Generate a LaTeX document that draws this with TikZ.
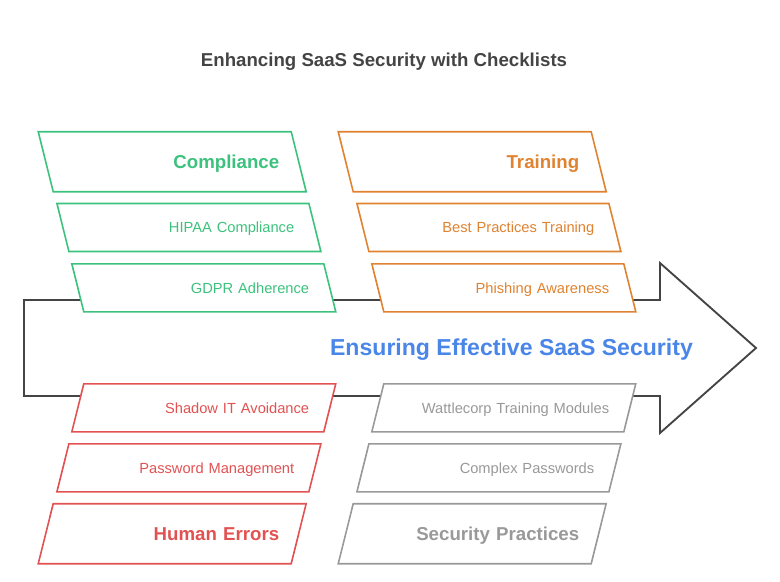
\documentclass[tikz,border=0pt]{standalone}
\usepackage{fontspec}
\setmainfont{Liberation Sans}
\usetikzlibrary{shapes.geometric}
\definecolor{cgreen}{RGB}{61,194,126}
\definecolor{corange}{RGB}{224,131,48}
\definecolor{cred}{RGB}{226,82,82}
\definecolor{cgrey}{RGB}{153,153,153}
\definecolor{cblue}{RGB}{74,134,232}
\definecolor{cdark}{RGB}{68,68,68}
\tikzset{
	part/.style={trapezium, draw=#1, text=#1, fill=white, line width=1.2pt, align=right, inner ysep=0pt},
	hi/.style={trapezium left angle=104, trapezium right angle=76},
	lo/.style={trapezium left angle=76, trapezium right angle=104},
	small/.style={text width=158pt, inner xsep=11pt, text height=22pt, text depth=14pt, font=\fontsize{11}{13}\selectfont},
	big/.style={text width=160.5pt, inner xsep=9pt, text height=27.5pt, text depth=17.5pt, font=\bfseries\fontsize{14}{16}\selectfont},
}
\begin{document}
\begin{tikzpicture}[x=0.75pt, y=-0.75pt]
	\useasboundingbox (0,0) rectangle (780,581);
	\node[text=cdark, font=\bfseries\fontsize{14}{16}\selectfont] (title) at (384,62) {Enhancing SaaS Security with Checklists};
	% the arrow
	\coordinate (tl) at (24,300);
	\coordinate (nt) at (660,300);
	\coordinate (ht) at (660,263);
	\coordinate (tip) at (756,348);
	\coordinate (hb) at (660,433);
	\coordinate (nb) at (660,396);
	\coordinate (bl) at (24,396);
	\draw[cdark, line width=1.4pt, line join=miter] (tl)--(nt)--(ht)--(tip)--(hb)--(nb)--(bl)--cycle;
	\node[text=cblue, font=\bfseries\fontsize{17.3}{20}\selectfont] (goal) at (511.5,350) {Ensuring Effective SaaS Security};
	% upper boxes
	\node[part=cgreen, hi, big] (comp) at (172.2,161.7) {Compliance};
	\node[part=cgreen, hi, small] (hipaa) at (188.9,227.5) {HIPAA Compliance};
	\node[part=cgreen, hi, small] (gdpr) at (203.8,287.8) {GDPR Adherence};
	\node[part=corange, hi, big] (train) at (472.2,161.7) {Training};
	\node[part=corange, hi, small] (best) at (488.9,227.5) {Best Practices Training};
	\node[part=corange, hi, small] (phish) at (503.8,287.8) {Phishing Awareness};
	% lower boxes
	\node[part=cred, lo, small] (shadow) at (203.8,407.8) {Shadow IT Avoidance};
	\node[part=cred, lo, small] (pass) at (188.9,467.8) {Password Management};
	\node[part=cred, lo, big] (human) at (172.2,533.7) {Human Errors};
	\node[part=cgrey, lo, small] (wattle) at (503.8,407.8) {Wattlecorp Training Modules};
	\node[part=cgrey, lo, small] (cplx) at (488.9,467.8) {Complex Passwords};
	\node[part=cgrey, lo, big] (secp) at (472.2,533.7) {Security Practices};
\end{tikzpicture}
\end{document}
